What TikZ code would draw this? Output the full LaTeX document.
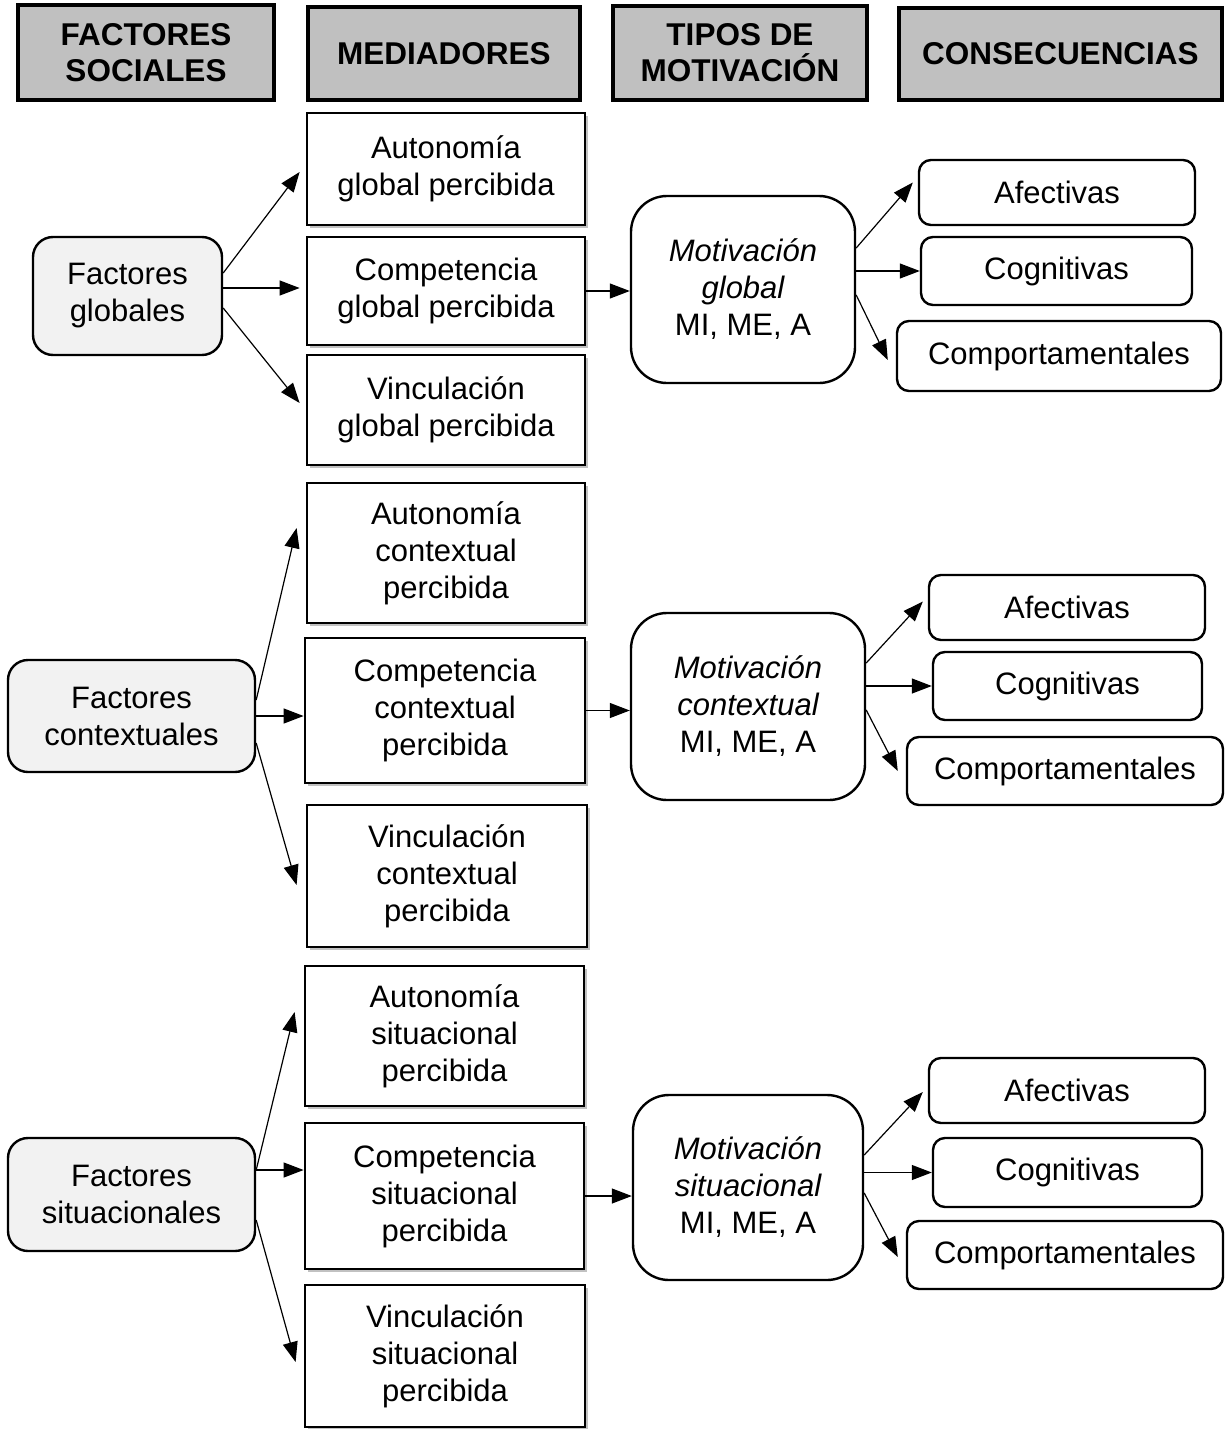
\documentclass[tikz,border=0pt]{standalone}
\usepackage{fontspec}
\setmainfont{Liberation Sans}
\usetikzlibrary{arrows.meta,shadows}
\definecolor{headgray}{HTML}{C0C0C0}
\definecolor{factgray}{HTML}{F2F2F2}
\begin{document}
\begin{tikzpicture}[x=1pt,y=-1pt,
  every node/.style={font=\fontsize{31}{37}\selectfont, align=center, inner sep=0pt},
  headbox/.style={draw, line width=4pt, fill=headgray, font=\fontsize{31.5}{36}\selectfont\bfseries},
  medbox/.style={draw, line width=2.8pt, fill=white,
    drop shadow={shadow xshift=3pt, shadow yshift=-3pt, opacity=.35, fill=black!70}},
  factbox/.style={draw, line width=2.4pt, fill=factgray, rounded corners=20pt},
  motbox/.style={draw, line width=2.4pt, fill=white, rounded corners=36pt},
  conbox/.style={draw, line width=2.4pt, fill=white, rounded corners=12pt},
  arr/.style={line width=1.2pt, -{Triangle[length=20pt,width=15pt]}}
]
\useasboundingbox (0,0) rectangle (1225,1429);

% column headers
\node[headbox, minimum width=256pt, minimum height=95pt] (h1) at (146,52.5) {FACTORES\\SOCIALES};
\node[headbox, minimum width=272pt, minimum height=93pt] (h2) at (444,53.5) {MEDIADORES};
\node[headbox, minimum width=254pt, minimum height=94pt] (h3) at (740,53) {TIPOS DE\\MOTIVACIÓN};
\node[headbox, minimum width=323pt, minimum height=92pt] (h4) at (1060.5,54) {CONSECUENCIAS};

% global level
\node[factbox, minimum width=189pt, minimum height=118pt] (fg) at (127.5,296) {Factores\\globales};
\node[medbox, minimum width=278pt, minimum height=112pt] (ag) at (446,169) {Autonomía\\global percibida};
\node[medbox, minimum width=278pt, minimum height=108pt] (cg) at (446,291) {Competencia\\global percibida};
\node[medbox, minimum width=278pt, minimum height=110pt] (vg) at (446,410) {Vinculación\\global percibida};
\node[motbox, minimum width=224pt, minimum height=187pt] (mg) at (743,289.5) {\itshape Motivación\\\itshape global\\MI, ME, A};
\node[conbox, minimum width=276pt, minimum height=65pt] (afg) at (1057,192.5) {Afectivas};
\node[conbox, minimum width=271pt, minimum height=68pt] (cog) at (1056.5,271) {Cognitivas};
\node[conbox, minimum width=324pt, minimum height=70pt] (comg) at (1059,356) {Comportamentales};

\draw[arr] ([yshift=23pt]fg.east) -- ([xshift=-6pt,yshift=-3pt]ag.west);
\draw[arr] ([yshift=8pt]fg.east) -- ([xshift=-6pt,yshift=3pt]cg.west);
\draw[arr] ([yshift=-12pt]fg.east) -- ([xshift=-6pt,yshift=7pt]vg.west);
\draw[arr] (cg.east) -- (cg.east -| mg.west);
\draw[arr] ([yshift=41.5pt]mg.east) -- ([xshift=-5pt,yshift=10pt]afg.west);
\draw[arr] (mg.east |- cog.west) -- (cog.west);
\draw[arr] ([yshift=-5.5pt]mg.east) -- ([xshift=-8pt,yshift=-4pt]comg.west);

% contextual level
\node[factbox, minimum width=247pt, minimum height=112pt] (fc) at (131.5,716) {Factores\\contextuales};
\node[medbox, minimum width=278pt, minimum height=140pt] (ac) at (446,553) {Autonomía\\contextual\\percibida};
\node[medbox, minimum width=280pt, minimum height=145pt] (cc) at (445,710.5) {Competencia\\contextual\\percibida};
\node[medbox, minimum width=280pt, minimum height=142pt] (vc) at (447,876) {Vinculación\\contextual\\percibida};
\node[motbox, minimum width=234pt, minimum height=187pt] (mc) at (748,706.5) {\itshape Motivación\\\itshape contextual\\MI, ME, A};
\node[conbox, minimum width=276pt, minimum height=65pt] (afc) at (1067,607.5) {Afectivas};
\node[conbox, minimum width=269pt, minimum height=68pt] (coc) at (1067.5,686) {Cognitivas};
\node[conbox, minimum width=316pt, minimum height=68pt] (comc) at (1065,771) {Comportamentales};

\draw[arr] ([yshift=16pt]fc.east) -- ([xshift=-9pt,yshift=25pt]ac.west);
\draw[arr] (fc.east) -- (fc.east -| cc.west);
\draw[arr] ([yshift=-27pt]fc.east) -- ([xshift=-9pt,yshift=-9pt]vc.west);
\draw[arr] (cc.east) -- (cc.east -| mc.west);
\draw[arr] ([yshift=43.5pt]mc.east) -- ([xshift=-5pt,yshift=6pt]afc.west);
\draw[arr] (mc.east |- coc.west) -- (coc.west);
\draw[arr] ([yshift=-3.5pt]mc.east) -- ([xshift=-8pt,yshift=0pt]comc.west);

% situational level
\node[factbox, minimum width=247pt, minimum height=113pt] (fs) at (131.5,1194.5) {Factores\\situacionales};
\node[medbox, minimum width=279pt, minimum height=140pt] (as) at (444.5,1036) {Autonomía\\situacional\\percibida};
\node[medbox, minimum width=279pt, minimum height=146pt] (cs) at (444.5,1196) {Competencia\\situacional\\percibida};
\node[medbox, minimum width=280pt, minimum height=142pt] (vs) at (445,1356) {Vinculación\\situacional\\percibida};
\node[motbox, minimum width=230pt, minimum height=185pt] (ms) at (748,1187.5) {\itshape Motivación\\\itshape situacional\\MI, ME, A};
\node[conbox, minimum width=276pt, minimum height=65pt] (afs) at (1067,1090.5) {Afectivas};
\node[conbox, minimum width=269pt, minimum height=69pt] (cos) at (1067.5,1172.5) {Cognitivas};
\node[conbox, minimum width=316pt, minimum height=68pt] (coms) at (1065,1255) {Comportamentales};

\coordinate (fs1) at ([yshift=24.5pt]fs.east);
\draw[arr] (fs1) -- ([xshift=-9pt,yshift=24pt]as.west);
\draw[arr] (fs1) -- (fs1 -| cs.west);
\draw[arr] ([yshift=-25.5pt]fs.east) -- ([xshift=-8pt,yshift=-6pt]vs.west);
\draw[arr] (cs.east) -- (cs.east -| ms.west);
\draw[arr] ([yshift=32.5pt]ms.east) -- ([xshift=-5pt,yshift=-1.5pt]afs.west);
\draw[arr] (ms.east |- cos.west) -- (cos.west);
\draw[arr] ([yshift=-5.5pt]ms.east) -- ([xshift=-8pt,yshift=-2pt]coms.west);
\end{tikzpicture}
\end{document}
